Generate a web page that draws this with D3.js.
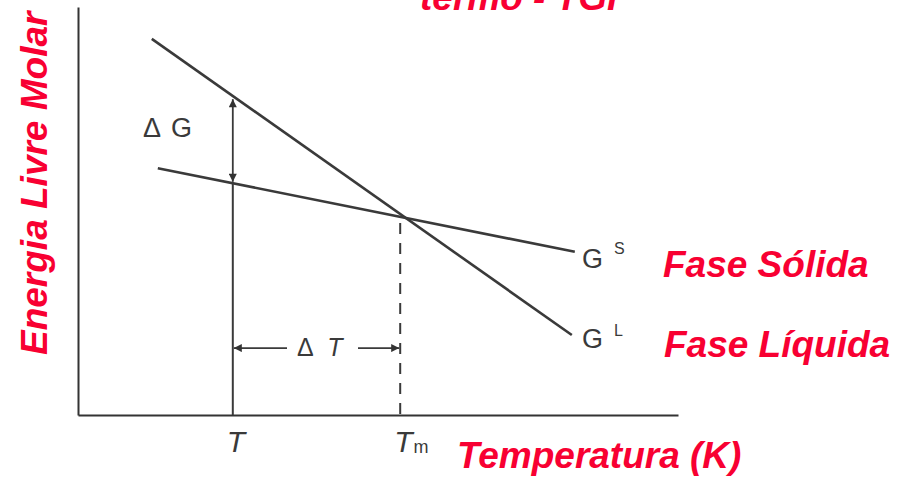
<html>
<head>
  <script src="https://cdn.jsdelivr.net/npm/d3@7"></script>
  <style>
    body { margin: 0; background: #fff; }
    .curve { fill: none; stroke: #3a3a3a; stroke-width: 2.6; }
    .axis path { stroke: #333; stroke-width: 2; }
    .scan { fill: #3a3a3a; font-family: "Liberation Sans", Arial, sans-serif; }
    .it { font-style: italic; }
    .red { fill: #f80032; font-family: "Liberation Sans", Arial, sans-serif; font-weight: bold; font-style: italic; font-size: 37px; }
  </style>
</head>
<body>
<script>
  const w = 903;
  const h = 477;

  // lines (temperature, molar free energy), arbitrary units
  const liquidT = [12.3, 82.3];
  const liquidG = [92.2, 19.6];
  const solidT = [13.3, 82.8];
  const solidG = [60.5, 40.0];

  // marked temperatures
  const tickTemps = [25.8, 53.7];
  const tickNames = ["T", "Tm"];
  const deltaG = [77.9, 56.9];     // liquid and solid energy at T
  const meltG = 48.5;              // where the lines cross
  const deltaTLevel = 16.4;

  const xScale = d3.scaleLinear().domain([0, 100]).range([78, 678]);
  const yScale = d3.scaleLinear().domain([0, 100]).range([415, 7]);

  const svg = d3.select("body").append("svg")
    .attr("width", w).attr("height", h);

  svg.append("defs").append("marker")
    .attr("id", "head")
    .attr("viewBox", "0 0 10 10")
    .attr("refX", 10).attr("refY", 5)
    .attr("markerWidth", 14).attr("markerHeight", 8)
    .attr("markerUnits", "userSpaceOnUse")
    .attr("orient", "auto-start-reverse")
    .append("path").attr("d", "M0,0L10,5L0,10Z").attr("fill", "#333");

  // axes
  const xAxis = d3.axisBottom(xScale).tickValues([]).tickSizeOuter(0);
  const yAxis = d3.axisLeft(yScale).tickValues([]).tickSizeOuter(0);
  svg.append("g").attr("class", "axis")
    .attr("transform", "translate(0," + yScale(0) + ")").call(xAxis);
  svg.append("g").attr("class", "axis")
    .attr("transform", "translate(" + xScale(0) + ",0)").call(yAxis);

  const line = d3.line()
    .x(d => xScale(d[0]))
    .y(d => yScale(d[1]));

  svg.append("path").attr("class", "curve")
    .attr("d", line(d3.zip(liquidT, liquidG)));
  svg.append("path").attr("class", "curve")
    .attr("d", line(d3.zip(solidT, solidG)));

  // vertical at T
  svg.append("line").attr("class", "curve").style("stroke-width", 2)
    .attr("x1", xScale(tickTemps[0])).attr("x2", xScale(tickTemps[0]))
    .attr("y1", yScale(deltaG[1])).attr("y2", yScale(0));
  // delta G double arrow
  svg.append("line").attr("class", "curve").style("stroke-width", 1.8)
    .attr("x1", xScale(tickTemps[0])).attr("x2", xScale(tickTemps[0]))
    .attr("y1", yScale(deltaG[0]) + 2).attr("y2", yScale(deltaG[1]) - 1)
    .attr("marker-start", "url(#head)").attr("marker-end", "url(#head)");

  // dashed line at Tm
  svg.append("line").attr("class", "curve").style("stroke-width", 2)
    .attr("stroke-dasharray", "11,9")
    .attr("x1", xScale(tickTemps[1])).attr("x2", xScale(tickTemps[1]))
    .attr("y1", yScale(meltG) + 6).attr("y2", yScale(0));

  // delta T arrows
  const yT = yScale(deltaTLevel);
  svg.append("line").attr("class", "curve").style("stroke-width", 1.8)
    .attr("x1", 287).attr("x2", xScale(tickTemps[0]) + 1)
    .attr("y1", yT).attr("y2", yT)
    .attr("marker-end", "url(#head)");
  svg.append("line").attr("class", "curve").style("stroke-width", 1.8)
    .attr("x1", 358).attr("x2", xScale(tickTemps[1]) - 1)
    .attr("y1", yT).attr("y2", yT)
    .attr("marker-end", "url(#head)");

  // tick labels
  tickTemps.forEach(function(t, i) {
    const txt = svg.append("text").attr("class", "scan it")
      .attr("x", xScale(t) - 6).attr("y", 452)
      .attr("font-size", 30).text(tickNames[i][0]);
    if (tickNames[i].length > 1) {
      txt.append("tspan").attr("dx", 1).attr("dy", 1)
        .attr("font-size", 18).style("font-style", "normal")
        .text(tickNames[i].slice(1));
    }
  });

  // scanned labels
  const dg = svg.append("text").attr("class", "scan").attr("font-size", 27)
    .attr("x", 143).attr("y", 137).text("\u0394");
  dg.append("tspan").attr("dx", 10).text("G");
  const dt = svg.append("text").attr("class", "scan").attr("font-size", 25)
    .attr("x", 297).attr("y", 356).text("\u0394 ");
  dt.append("tspan").attr("class", "it").attr("dx", 8).text("T");

  const gs = svg.append("text").attr("class", "scan").attr("font-size", 27)
    .attr("x", 582).attr("y", 268).text("G");
  gs.append("tspan").attr("dx", 11).attr("dy", -14).attr("font-size", 16).text("S");
  const gl = svg.append("text").attr("class", "scan").attr("font-size", 27)
    .attr("x", 582).attr("y", 348).text("G");
  gl.append("tspan").attr("dx", 11).attr("dy", -12).attr("font-size", 16).text("L");

  // red overlay
  svg.append("text").attr("class", "red").attr("x", 420).attr("y", 10).text("termo - TGI");
  svg.append("text").attr("class", "red").attr("x", 663).attr("y", 277).text("Fase Sólida");
  svg.append("text").attr("class", "red").attr("x", 664).attr("y", 357).text("Fase Líquida");
  svg.append("text").attr("class", "red").attr("x", 457).attr("y", 468).text("Temperatura (K)");
  svg.append("text").attr("class", "red")
    .attr("transform", "translate(47,355) rotate(-90)").text("Energia Livre Molar");
</script>
</body>
</html>
